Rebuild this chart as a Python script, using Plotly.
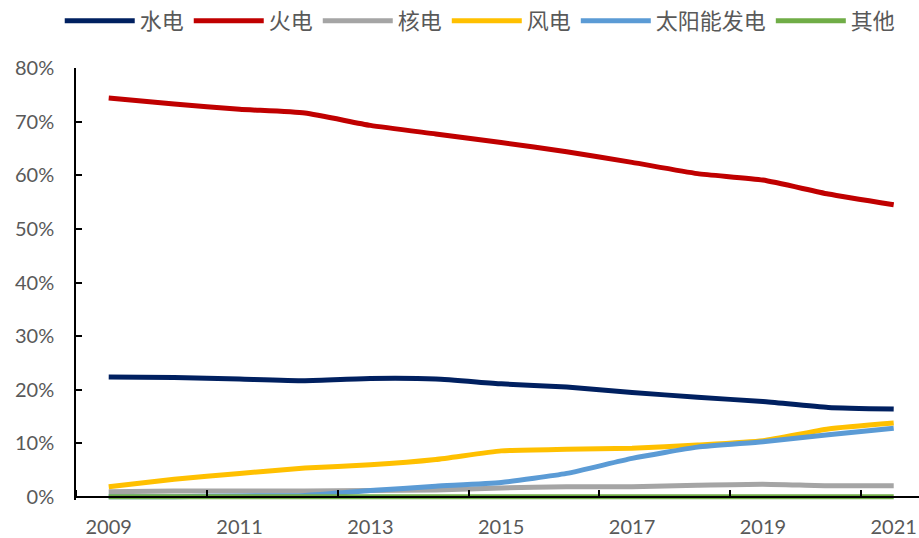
import plotly.graph_objects as go

years = list(range(2009, 2022))
hydro   = [22.4, 22.3, 22.0, 21.7, 22.1, 22.0, 21.1, 20.5, 19.5, 18.6, 17.8, 16.7, 16.4]
thermal = [74.4, 73.3, 72.3, 71.6, 69.3, 67.7, 66.1, 64.4, 62.4, 60.3, 59.1, 56.5, 54.5]
nuclear = [1.0, 1.1, 1.1, 1.1, 1.2, 1.3, 1.7, 1.9, 1.9, 2.2, 2.4, 2.1, 2.1]
wind    = [1.9, 3.3, 4.4, 5.4, 6.0, 7.0, 8.6, 8.9, 9.1, 9.7, 10.5, 12.7, 13.8]
solar   = [0.03, 0.05, 0.2, 0.3, 1.2, 2.0, 2.7, 4.4, 7.2, 9.3, 10.3, 11.6, 12.8]
other   = [0.05, 0.05, 0.05, 0.05, 0.05, 0.05, 0.05, 0.05, 0.05, 0.05, 0.05, 0.05, 0.05]

names = ["水电", "火电", "核电", "风电", "太阳能发电", "其他"]
series = [hydro, thermal, nuclear, wind, solar, other]
colors = ["#002060", "#C00000", "#A5A5A5", "#FFC000", "#5B9BD5", "#70AD47"]

fig = go.Figure()
for n, s, c in zip(names, series, colors):
    fig.add_trace(go.Scatter(
        x=years, y=[v / 100 for v in s], name=n, mode="lines",
        line=dict(color=c, width=5, shape="spline", smoothing=0.5),
    ))

W, H = 919, 538
ml, mr, mt, mb = 76, 0, 68, 38
plot_h = H - mt - mb
px_per_unit = (497 - 68) / 0.8
ymin = -(mt + plot_h - 497) / px_per_unit
px_per_year = (893 - 108) / 12
xmax = 2008.5 + (W - ml - mr) / px_per_year
pos = (mt + plot_h - 497) / plot_h

tick_font = dict(family="Lato, Open Sans, sans-serif", size=20, color="#595959")

fig.update_layout(
    width=W, height=H,
    margin=dict(l=ml, r=mr, t=mt, b=mb),
    plot_bgcolor="white", paper_bgcolor="white",
    showlegend=True,
    legend=dict(
        orientation="h", xref="container", yref="container",
        x=0.065, y=1.0, xanchor="left", yanchor="top",
        font=dict(family="Noto Sans CJK SC", size=22, color="#595959"),
        itemwidth=70, tracegroupgap=0, bgcolor="rgba(0,0,0,0)",
    ),
    xaxis=dict(
        range=[2008.5, xmax], anchor="free", position=pos,
        tickmode="array", tickvals=years[::2], ticktext=[str(y) for y in years[::2]],
        ticks="", showgrid=False, zeroline=False,
        showline=True, linecolor="black", linewidth=1.5,
        tickfont=tick_font, ticklabelstandoff=12,
        minor=dict(ticks="inside", tick0=2008.5, dtick=2, ticklen=6,
                   tickcolor="black", tickwidth=1.5, showgrid=False),
    ),
    yaxis=dict(
        range=[ymin, 0.8], tickformat=".0%", dtick=0.1, tick0=0,
        ticks="inside", ticklen=6, tickcolor="black", tickwidth=1.5,
        showgrid=False, zeroline=False,
        showline=True, linecolor="black", linewidth=1.5,
        tickfont=tick_font, ticklabelstandoff=16,
    ),
)

fig.write_html("out.html")
